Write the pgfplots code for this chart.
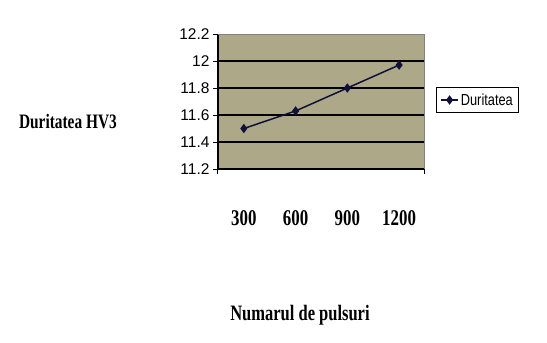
\documentclass[border=0pt]{standalone}
\usepackage{pgfplots}
\pgfplotsset{compat=1.18}
\usepackage{fontspec}
\setmainfont{Liberation Serif}
\newfontfamily\condserif[FakeStretch=0.75]{Liberation Serif}
\newfontfamily\sansf{Liberation Sans}
\newfontfamily\condsans[FakeStretch=0.8]{Liberation Sans}
\definecolor{olivebg}{RGB}{172,168,136}
\definecolor{serieblue}{RGB}{16,16,58}
\begin{document}
\begin{tikzpicture}[x=1pt,y=1pt]
\useasboundingbox (0,0) rectangle (547,343);
\begin{axis}[
  at={(218pt,174pt)}, anchor=south west,
  scale only axis, width=207pt, height=135pt,
  xmin=-0.5, xmax=3.5, ymin=11.2, ymax=12.2,
  axis x line=bottom, axis y line=left,
  axis line style={-, black, line width=1.6pt},
  axis background/.style={fill=olivebg},
  xtick={0,1,2,3},
  xticklabels={300,{\raisebox{-3pt}{600}},{\raisebox{-7pt}{900}},{\raisebox{-8pt}{1200}}},
  xtick style={draw=none},
  xticklabel style={font=\condserif\bfseries\fontsize{22.5}{22.5}\selectfont, yshift=-33pt},
  extra x ticks={-0.5,3.5}, extra x tick labels={},
  extra x tick style={grid=none, xtick style={draw=black, line width=1pt}, tick align=outside, major tick length=5pt},
  ytick={11.4,11.6,11.8,12},
  yticklabels={11.4,11.6,11.8,12},
  extra y ticks={11.2,12.2}, extra y tick labels={11.2,12.2},
  extra y tick style={grid=none},
  ymajorgrids, grid style={black, line width=1.6pt},
  tick align=outside, major tick length=5pt,
  ytick style={black, line width=1pt},
  yticklabel style={font=\sansf\fontsize{15.5}{15.5}\selectfont},
  every axis x label/.style={at={(axis description cs:0.396,-1.08)}, anchor=center},
  every axis y label/.style={at={(axis description cs:-0.725,0.348)}, anchor=center},
  xlabel={Numarul de pulsuri},
  ylabel={Duritatea HV3},
  xlabel style={font=\condserif\bfseries\fontsize{22}{22}\selectfont},
  ylabel style={font=\condserif\bfseries\fontsize{20.5}{20.5}\selectfont},
  legend style={at={(axis description cs:1.254,0.511)}, anchor=center, draw=black, line width=1pt,
    font=\condsans\fontsize{16}{16}\selectfont, inner sep=3.5pt},
  legend cell align=left,
  clip=false,
]
\addplot[color=serieblue, line width=1.5pt, mark=diamond*, mark size=3.5pt, mark options={solid}]
  coordinates {(0,11.5) (1,11.63) (2,11.8) (3,11.97)};
\addlegendentry{Duritatea}
\draw[gray, line width=1pt] (rel axis cs:0,1) -- (rel axis cs:1,1) -- (rel axis cs:1,0);
\end{axis}
\end{tikzpicture}
\end{document}
